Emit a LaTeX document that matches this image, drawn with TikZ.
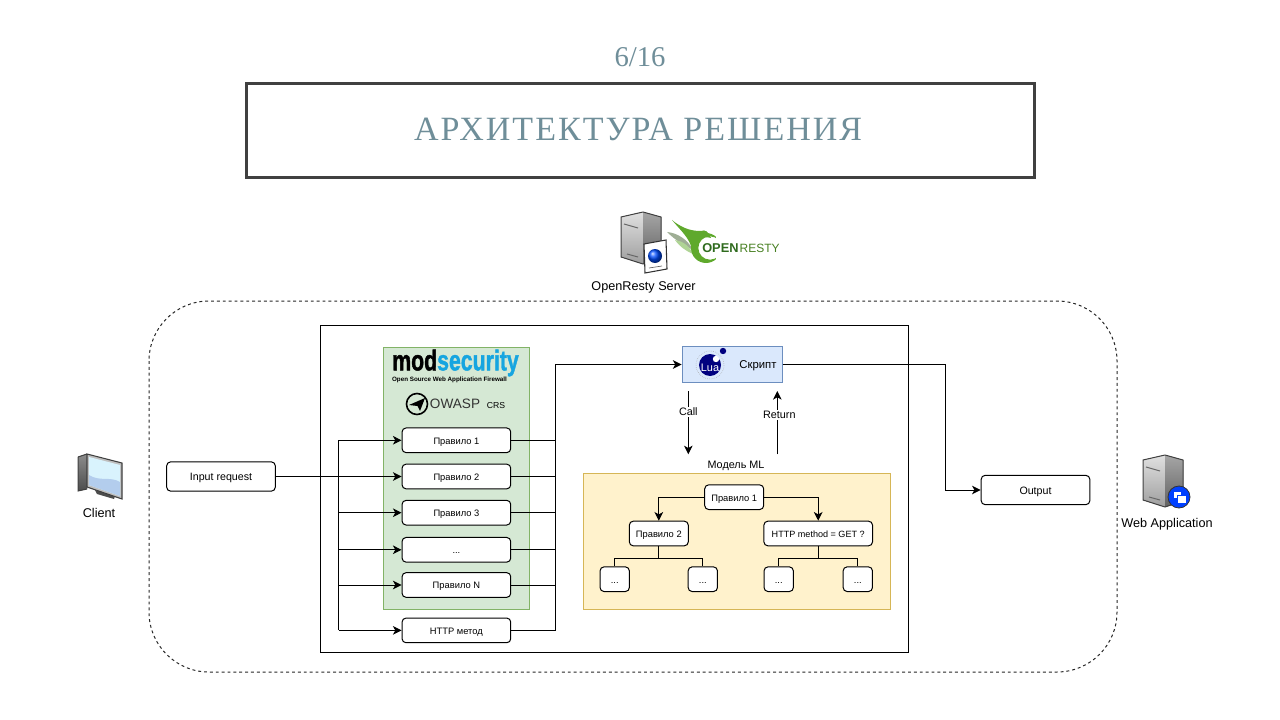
\documentclass[tikz,border=0pt]{standalone}
\usepackage{fontspec}
\setmainfont{Liberation Sans}
\newfontfamily\titlefont[LetterSpace=6]{Liberation Serif}
\newfontfamily\pagefont{Liberation Serif}
\newfontfamily\modfont[BoldFeatures={FakeBold=1.6}]{Liberation Sans}
\usetikzlibrary{arrows.meta}
\definecolor{slate}{HTML}{6F8E99}
\definecolor{framegrey}{HTML}{404040}
\definecolor{ruleGreen}{HTML}{D5E8D4}
\definecolor{ruleGreenLine}{HTML}{82B366}
\definecolor{luaBlue}{HTML}{DAE8FC}
\definecolor{luaBlueLine}{HTML}{6C8EBF}
\definecolor{modelYellow}{HTML}{FFF2CC}
\definecolor{modelYellowLine}{HTML}{D6B656}
\definecolor{luaNavy}{HTML}{00007F}
\definecolor{modBlue}{HTML}{16A5E0}
\definecolor{restyGreen}{HTML}{5FA92C}
\definecolor{restyDark}{HTML}{2F6B1E}
\tikzset{
  rulebox/.style={draw=black, fill=white, rounded corners=3pt, line width=.75pt,
    minimum width=81.5pt, minimum height=18.5pt, inner sep=0pt, text height=7pt, text depth=1.2pt,
    font=\fontsize{7}{8}\selectfont},
  treebox/.style={rulebox, minimum width=44.25pt},
  leafbox/.style={rulebox, minimum width=22pt, minimum height=18.5pt},
  endbox/.style={rulebox, minimum height=22pt, text height=7.6pt, font=\fontsize{8}{9}\selectfont},
  caption/.style={inner sep=0pt, font=\fontsize{9.5}{10}\selectfont},
  small/.style={inner sep=0pt, font=\fontsize{8.1}{9}\selectfont},
  wire/.style={line width=.75pt, draw=black},
  arrow/.style={wire, -{Stealth[length=6.5pt, width=6.5pt, inset=1.8pt]}}
}
\newcommand{\dotstext}{...}
\newcommand{\drawserver}[2]{
  \begin{scope}[shift={(#1, #2)}]
    \fill[top color=black!12, bottom color=black!38] (0, 0) -- (-22, 5) -- (-22, 45) -- (0, 52) -- cycle;
    \fill[top color=black!35, bottom color=black!62] (0, 0) -- (18, 5) -- (18, 46) -- (0, 52) -- cycle;
    \draw[line width=.75pt, black!75, line join=round] (0, 0) -- (-22, 5) -- (-22, 45) -- (0, 52)
      -- (18, 46) -- (18, 5) -- cycle;
    \draw[line width=.75pt, black!60] (-19, 12) -- (-5, 16) (-16, 42) -- (-5, 45);
  \end{scope}
}
\begin{document}
\begin{tikzpicture}[x=.75pt, y=-.75pt]
  \useasboundingbox (0, 0) rectangle (1280, 720);
  % header
  \node[inner sep=0pt, text=slate, font=\pagefont\fontsize{21.5}{24}\selectfont] (page) at (640, 57) {6/16};
  \node[draw=framegrey, line width=2.25pt, minimum width=591.5pt, minimum height=71pt, inner sep=0pt,
    text=slate, font=\titlefont\fontsize{25.5}{30}\selectfont] (title) at (640.5, 130.5)
    {\raisebox{2pt}{АРХИТЕКТУРА РЕШЕНИЯ}\kern3.5pt};

  % containers
  \draw[line width=.75pt, black!85, rounded corners=45pt, dash pattern=on 2.2pt off 2.2pt] (149, 301) rectangle (1117, 672);
  \draw[wire] (320.7, 325.7) rectangle (908.7, 652.7);
  \fill[ruleGreen, draw=ruleGreenLine, line width=.75pt] (383.7, 347) rectangle (529, 609.5);
  \fill[modelYellow, draw=modelYellowLine, line width=.75pt] (583, 473) rectangle (890, 609);

  % boxes
  \node[endbox] (input) at (221, 476.5) {Input request};
  \node[endbox] (output) at (1035.5, 490) {Output};
  \foreach \name/\y/\char in {rone/440.3/Правило 1, rtwo/476.5/Правило 2, rthree/512.7/Правило 3,
      rdots/549.8/\dotstext, rlast/585/Правило N, rmethod/630.4/HTTP метод}
    \node[rulebox] (\name) at (456.4, \y) {\char};
  \node[draw=luaBlueLine, fill=luaBlue, line width=.75pt, minimum width=75pt, minimum height=27.5pt,
    inner sep=0pt] (script) at (732, 364.5) {};
  \node[small, font=\fontsize{8.5}{9}\selectfont] (scripttext) at (758, 365.5) {Скрипт};
  \node[small] (model) at (736, 466) {Модель ML};
  \node[treebox] (tone) at (734.2, 497.2) {Правило 1};
  \node[treebox] (ttwo) at (658.8, 533.5) {Правило 2};
  \node[rulebox, font=\fontsize{6.8}{8}\selectfont] (thttp) at (818.2, 533.5) {HTTP method = GET ?};
  \foreach \name/\x in {lone/614.7, ltwo/702.8, lthree/778.7, lfour/857.8}
    \node[leafbox] (\name) at (\x, 579.2) {\dotstext};

  % wires on the left and right of the rules
  \coordinate (lbus) at (338.7, 476.5);
  \coordinate (rbus) at (555.3, 364.5);
  \coordinate (obus) at (945, 430);
  \draw[wire] (lbus |- rone) -- (lbus |- rmethod);
  \draw[arrow] (input) -- (rtwo);
  \foreach \name in {rone, rthree, rdots, rlast, rmethod}
    \draw[arrow] (lbus |- \name) -- (\name);
  \foreach \name in {rone, rtwo, rthree, rdots, rlast}
    \draw[wire] (\name) -- (rbus |- \name);
  \draw[arrow] (rmethod) -| (rbus) -- (script);
  \draw[arrow] (script) -| (obus) |- (output);

  % call and return
  \coordinate (callstart) at (688.3, 391);
  \coordinate (callend) at (688.3, 454.3);
  \coordinate (retstart) at (777.3, 454.3);
  \coordinate (retend) at (777.3, 391);
  \draw[arrow] (callstart) -- node[pos=.33, fill=white, small, inner ysep=1pt] {Call} (callend);
  \draw[arrow] (retstart) -- node[pos=.62, fill=white, small, inner ysep=1pt, xshift=1.5pt] {Return} (retend);

  % tree
  \draw[arrow] (tone) -| (ttwo);
  \draw[arrow] (tone) -| (thttp);
  \draw[wire] (ttwo.south) -- ++(0, 11.7) -| (lone.north);
  \draw[wire] (ttwo.south) -- ++(0, 11.7) -| (ltwo.north);
  \draw[wire] (thttp.south) -- ++(0, 11.7) -| (lthree.north);
  \draw[wire] (thttp.south) -- ++(0, 11.7) -| (lfour.north);

  % modsecurity logo
  \node[inner sep=0pt, font=\modfont\bfseries\fontsize{21}{24}\selectfont, xscale=.76, yscale=1.02] (modlogo) at (455.5, 363)
    {mod\textcolor{modBlue}{security}};
  \node[inner sep=0pt, font=\bfseries\fontsize{4.7}{5}\selectfont] (modsub) at (449.5, 380) {Open Source Web Application Firewall};
  \draw[line width=1.2pt] (417, 404) circle (10.5);
  \fill (409, 405) -- (425, 398) -- (420, 411) -- (417.5, 406) -- cycle;
  \node[inner sep=0pt, font=\fontsize{10.2}{12}\selectfont, text=black!80] (owasp) at (455, 404) {OWASP};
  \node[inner sep=0pt, font=\fontsize{6.5}{8}\selectfont] (crs) at (496, 405.5) {CRS};

  % lua logo
  \draw[black!35, densely dotted, line width=.4pt] (710, 365) circle (14);
  \fill[luaNavy] (710, 365) circle (11);
  \fill[white] (716, 359) circle (3.2);
  \fill[luaNavy] (723, 351) circle (3.2);
  \node[inner sep=0pt, text=white, font=\fontsize{8.2}{9}\selectfont] (lualabel) at (710, 367.5) {Lua};

  % client
  \fill[top color=black!45, bottom color=black!70] (78, 457) -- (87, 454) -- (87, 489) -- (78, 491) -- cycle;
  \draw[black!75, line width=.75pt] (78, 457) -- (87, 454) (78, 457) -- (78, 491) -- (87, 489);
  \fill[black!70] (95, 490) -- (115, 496) -- (114, 499) -- (97, 494) -- cycle;
  \fill[black!25, draw=black!75, line width=.8pt] (87, 454) -- (122, 463) -- (122, 499) -- (87, 487) -- cycle;
  \fill[cyan!15] (89, 457) -- (120, 465) -- (120, 496) -- (89, 485) -- cycle;
  \fill[cyan!60!blue!30] (89, 475) .. controls (100, 482) and (110, 476) .. (120, 482) -- (120, 496) -- (89, 485) -- cycle;
  \node[caption] (client) at (99, 513) {Client};

  % openresty
  \drawserver{643}{212}
  \fill[white, draw=black!80, line width=.8pt] (644, 244) -- (666, 240) -- (667, 269) -- (645, 273) -- cycle;
  \shade[ball color=blue!70!cyan] (655, 256) circle (7);
  \draw[black!60, line width=.5pt] (649, 268) -- (662, 266);
  \fill[restyGreen!45!black!45!white] (667, 232) .. controls (678, 233) and (688, 240) .. (693, 250)
    .. controls (685, 246) and (675, 240) .. (667, 232) -- cycle;
  \fill[restyGreen!50] (675, 240) .. controls (682, 241) and (689, 245) .. (693, 254)
    .. controls (686, 251) and (680, 247) .. (675, 240) -- cycle;
  \fill[restyGreen] (672, 220) .. controls (684, 230) and (694, 231) .. (701, 231)
    .. controls (705, 229) and (709, 232) .. (711, 238) .. controls (702, 235) and (695, 241) .. (692, 250)
    .. controls (690, 238) and (680, 230) .. (672, 220) -- cycle;
  \fill[restyGreen, even odd rule] (706, 248) circle (15) (710, 248) circle (11.7);
  \fill[white] (716, 230) rectangle (724, 266);
  \node[inner sep=0pt, anchor=west, font=\bfseries\fontsize{9.6}{10}\selectfont, text=restyDark] (restyleft) at (702, 248)
    {OPEN};
  \node[inner sep=0pt, anchor=east, font=\fontsize{9}{9}\selectfont, text=restyGreen!75!black] (restyright) at (780, 248)
    {RESTY};
  \node[caption] (server) at (643.5, 287) {OpenResty Server};

  % web application
  \drawserver{1165}{455}
  \fill[blue!75!cyan, draw=black!80, line width=.6pt] (1179, 497) circle (11);
  \fill[white, draw=blue!75!cyan, line width=.5pt] (1173, 491) rectangle (1181, 498);
  \fill[white, draw=blue!75!cyan, line width=.5pt] (1177, 495) rectangle (1186, 503);
  \node[caption] (webapp) at (1167, 524) {Web Application};
\end{tikzpicture}
\end{document}
